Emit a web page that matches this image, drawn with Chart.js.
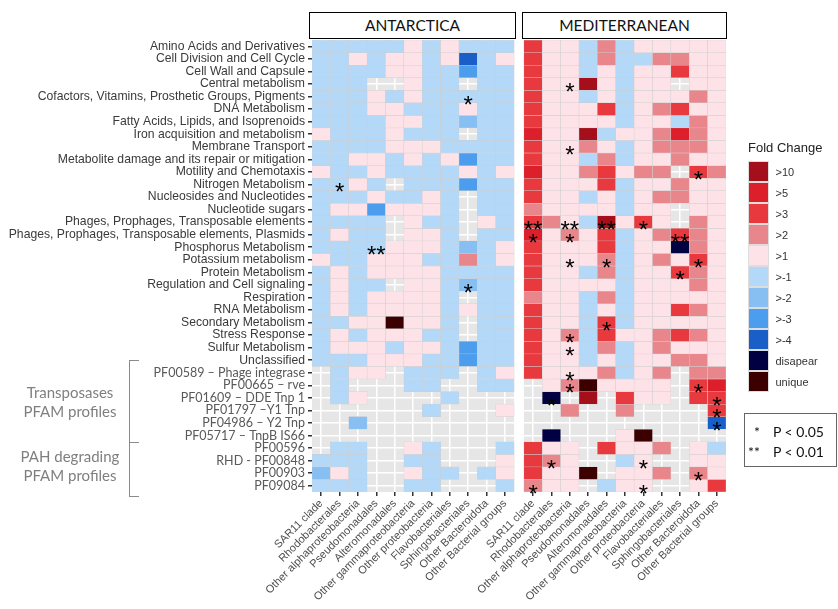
<!DOCTYPE html>
<html><head><meta charset="utf-8">
<script src="https://cdn.jsdelivr.net/npm/chart.js@4.4.1/dist/chart.umd.min.js"></script>
<style>
body{margin:0;background:#fff;width:838px;height:609px;overflow:hidden;position:relative;font-family:"Liberation Sans",Arial,sans-serif}
#c{position:absolute;left:0;top:0}
.hdr{position:absolute;top:12px;height:27px;box-sizing:border-box;border:1.5px solid #000;font:15.5px Lato,sans-serif;text-align:center;line-height:24px;color:#111;background:#fff}
.grp{position:absolute;font:15px Lato,sans-serif;color:#7f7f7f;text-align:center;width:120px;line-height:19px}
.ln{position:absolute;background:#8a8a8a}
#legend{position:absolute;left:748px;top:140px;color:#222}
#legend .t{font:13px "Liberation Sans",Arial,sans-serif;margin-bottom:6px}
#legend .row{display:flex;align-items:center;height:21px}
#legend .sw{width:20.5px;height:21px;box-sizing:border-box;border:0.5px solid #ddd}
#legend .lb{font:11px "Liberation Sans",Arial,sans-serif;color:#333;margin-left:7px}
#pbox{position:absolute;left:744px;top:413px;width:93px;height:54px;box-sizing:border-box;border:1px solid #666;font:14px Lato,sans-serif;color:#111}
#pbox div{position:absolute;white-space:pre}
</style></head><body>
<canvas id="c" width="838" height="609"></canvas>
<div class="hdr" style="left:309px;width:207px">ANTARCTICA</div>
<div class="hdr" style="left:522px;width:205px">MEDITERRANEAN</div>
<div class="grp" style="left:10px;top:383px">Transposases<br>PFAM profiles</div>
<div class="grp" style="left:10px;top:447px">PAH degrading<br>PFAM profiles</div>
<div class="ln" style="left:129px;top:360px;width:1px;height:137px"></div>
<div class="ln" style="left:129px;top:360px;width:10px;height:1px"></div>
<div class="ln" style="left:129px;top:442px;width:10px;height:1px"></div>
<div class="ln" style="left:129px;top:496px;width:10px;height:1px"></div>
<div id="legend"><div class="t">Fold Change</div></div>
<div id="pbox">
  <div style="left:9px;top:9px">*</div><div style="left:28px;top:9px">P &lt; 0.05</div>
  <div style="left:3px;top:29px">**</div><div style="left:28px;top:29px">P &lt; 0.01</div>
</div>
<script>
// ---- data ----
const categories = ["SAR11 clade","Rhodobacterales","Other alphaproteobacteria","Pseudomonadales","Alteromonadales","Other gammaproteobacteria","Other proteobacteria","Flavobacteriales","Sphingobacteriales","Other Bacteroidota","Other Bacterial groups"];
const rowLabels = ["Amino Acids and Derivatives","Cell Division and Cell Cycle","Cell Wall and Capsule","Central metabolism","Cofactors, Vitamins, Prosthetic Groups, Pigments","DNA Metabolism","Fatty Acids, Lipids, and Isoprenoids","Iron acquisition and metabolism","Membrane Transport","Metabolite damage and its repair or mitigation","Motility and Chemotaxis","Nitrogen Metabolism","Nucleosides and Nucleotides","Nucleotide sugars","Phages, Prophages, Transposable elements","Phages, Prophages, Transposable elements, Plasmids","Phosphorus Metabolism","Potassium metabolism","Protein Metabolism","Regulation and Cell signaling","Respiration","RNA Metabolism","Secondary Metabolism","Stress Response","Sulfur Metabolism","Unclassified","PF00589 \u2013 Phage integrase","PF00665 \u2013 rve","PF01609 \u2013 DDE Tnp 1","PF01797 \u2013Y1 Tnp","PF04986 \u2013 Y2 Tnp","PF05717 \u2013 TnpB IS66","PF00596","RHD - PF00848","PF00903","PF09084"];
const foldLevels = [">10",">5",">3",">2",">1",">-1",">-2",">-3",">-4","disapear","unique"];
const levelCodes = ["K","R","r","s","p","b","g","m","M","d","u"];
const levelColors = ["#a50f1b","#dc1f2a","#e8393f","#e8868b","#fde2e8","#b4d8f7","#88bff2","#4c9ded","#1a5ec8","#000042","#3d0000"];
// one string per row, one code per category ("." = no data)
const antarctica = [
"bbbbbpbpbbb","bbpbppbpMbp","bbbbppbbmbb","bbb..pbb.bb","bbbpbpbbbbb","bbbppbbbpbb",
"bbbbppbbgbb","pbbbpbbb.bb","bbbbpppbbbb","bbppbpbpmbb","pbbpbbbbpbp","bbpb.bbbmbb",
"bbbpbbpb.bb","bppmpppb.bb","bbbb.pbb.pb","bpbb.ppb.bb","bbbbpppbgbp","pbbpppbbsbp",
"bpbppppbbbb","bpbb.ppbgbb","bpbppppb.bb","bpbppppbpbb","bbppuppb.bb","bpbpppbb.bb",
"bpppbppbmbb","bbbpppbbmbb",".bpp.bbb.bp",".b...bb..bb",".bp....b...","......b...p",
"..g........","...........",".bb..pb...b","bbb..bb...p","gpb..pbb.bp","bbb..bb...b"];
const mediterranean = [
"rppbsbppppp","rppbsbbsspp","rppbpbpprpp","rppKpbpp.pp","rppbpbpppsp","rppprbpsrpp",
"rppppbppbsp","RppKbppsRsp","rppspbpsssp","rppbsbppspp","Rppsrpss.rs","rppprbppspp",
"rppbpbpsspp","sppppbpp.pp","rspbKprp.sp","Rpsprbpsrsp","rppprbppdsp","rpppsbpsprp",
"rppbsbpprsp","rppppbpppsp","sppbsbppppp","rppbpbpprsp","rppbrbppppp","rpsbrppsrsp",
"rppbsbpsppp","rppbpbppssp","rpppsbps.ss",".psupppp.rR",".d.K.rpp.rr","..s..s....r",
"..........M",".d...pu....","rpp.rpps.pb","rsp..bp..pp","rppu.pps.sp","spp.bpp..pr"];
// significance marks: [row (1-based), category (1-based), mark]
const antarcticaSig = [[5,9,"*"],[12,2,"*"],[17,4,"**"],[20,9,"*"]];
const mediterraneanSig = [[4,3,"*"],[9,3,"*"],[11,10,"*"],[15,1,"**"],[15,3,"**"],[15,5,"**"],[15,7,"*"],[16,1,"*"],[16,3,"*"],[16,9,"**"],[18,3,"*"],[18,5,"*"],[18,10,"*"],[19,9,"*"],[23,5,"*"],[24,3,"*"],[25,3,"*"],[27,3,"*"],[28,3,"*"],[28,10,"*"],[29,2,"*"],[29,11,"*"],[30,11,"*"],[31,11,"*"],[34,2,"*"],[34,7,"*"],[35,10,"*"],[36,1,"*"],[36,7,"*"]];

// ---- layout ----
const SHIFT = 11.53;          // position of the second panel on the x scale
const panels = [antarctica, mediterranean];
const sigs = [antarcticaSig, mediterraneanSig];
const tickPos = [], tickLabels = [];
panels.forEach((_, p) => categories.forEach((c, i) => { tickPos.push(i + p * SHIFT); tickLabels.push(c); }));

const datasets = rowLabels.map((lab, r) => {
  const data = [], colors = [];
  panels.forEach((panel, p) => {
    for (let c = 0; c < categories.length; c++) {
      const li = levelCodes.indexOf(panel[r][c]);
      if (li < 0) continue;
      data.push({x: c + p * SHIFT, y: [r, r + 1]});
      colors.push(levelColors[li]);
    }
  });
  return {label: lab, data, backgroundColor: colors, borderColor: "#cfcfcf", borderWidth: 0.5,
          borderSkipped: false, grouped: false, barPercentage: 1, categoryPercentage: 1};
});

const bgPlugin = {id: "bg", beforeDraw(chart) {
  const {ctx, chartArea: a, scales: {x}} = chart;
  ctx.save(); ctx.fillStyle = "#e6e6e6";
  panels.forEach((_, p) => {
    const l = x.getPixelForValue(p * SHIFT - 0.5), rr = x.getPixelForValue(p * SHIFT + categories.length - 0.5);
    ctx.fillRect(l, a.top, rr - l, a.bottom - a.top);
  });
  ctx.restore();
}};
const starPlugin = {id: "stars", afterDatasetsDraw(chart) {
  const {ctx, scales: {x, y}} = chart;
  ctx.save(); ctx.fillStyle = "#000"; ctx.font = '24px "Liberation Sans"';
  ctx.textAlign = "center"; ctx.textBaseline = "alphabetic";
  sigs.forEach((list, p) => list.forEach(([r, c, m]) => {
    const px = x.getPixelForValue(c - 1 + p * SHIFT), py = y.getPixelForValue(r - 0.5);
    ctx.fillText(m, px, py + 16);
  }));
  ctx.restore();
}};

new Chart(document.getElementById("c"), {
  type: "bar",
  data: {datasets},
  options: {
    responsive: false, animation: false,
    layout: {padding: {top: 40, right: 112, bottom: 0, left: 0}},
    plugins: {legend: {display: false}, tooltip: {enabled: false}},
    scales: {
      x: {type: "linear", min: -0.5, max: SHIFT + categories.length - 0.5, offset: false,
          afterBuildTicks: s => { s.ticks = tickPos.map(v => ({value: v})); },
          afterFit: s => { s.height = 117; },
          ticks: {autoSkip: false, minRotation: 45, maxRotation: 45, color: "#4d4d4d", padding: 1,
                  font: {family: "Liberation Sans", size: 11}, callback: (v, i) => tickLabels[i]},
          grid: {offset: false, color: "#ffffff", lineWidth: 1.5, tickColor: "#333", tickLength: 4},
          border: {display: false}},
      y: {type: "linear", min: 0, max: rowLabels.length, reverse: true,
          afterBuildTicks: s => { s.ticks = rowLabels.map((_, i) => ({value: i + 0.5})); },
          afterFit: s => { s.width = 312; },
          ticks: {autoSkip: false, padding: 3,
                  color: c => c.index >= 26 ? "#595959" : "#3a3a3a",
                  font: c => c.index >= 26 ? {family: "Lato", size: 12.5} : {family: "Liberation Sans", size: 12.2},
                  callback: (v, i) => rowLabels[i]},
          grid: {color: "#ffffff", lineWidth: 1.5, tickColor: "#333", tickLength: 4},
          border: {display: false}}
    }
  },
  plugins: [bgPlugin, starPlugin]
});

// legend
const lg = document.getElementById("legend");
foldLevels.forEach((lv, i) => {
  const row = document.createElement("div"); row.className = "row";
  const sw = document.createElement("div"); sw.className = "sw"; sw.style.background = levelColors[i];
  const lb = document.createElement("div"); lb.className = "lb"; lb.textContent = lv;
  row.appendChild(sw); row.appendChild(lb); lg.appendChild(row);
});
</script>
</body></html>
